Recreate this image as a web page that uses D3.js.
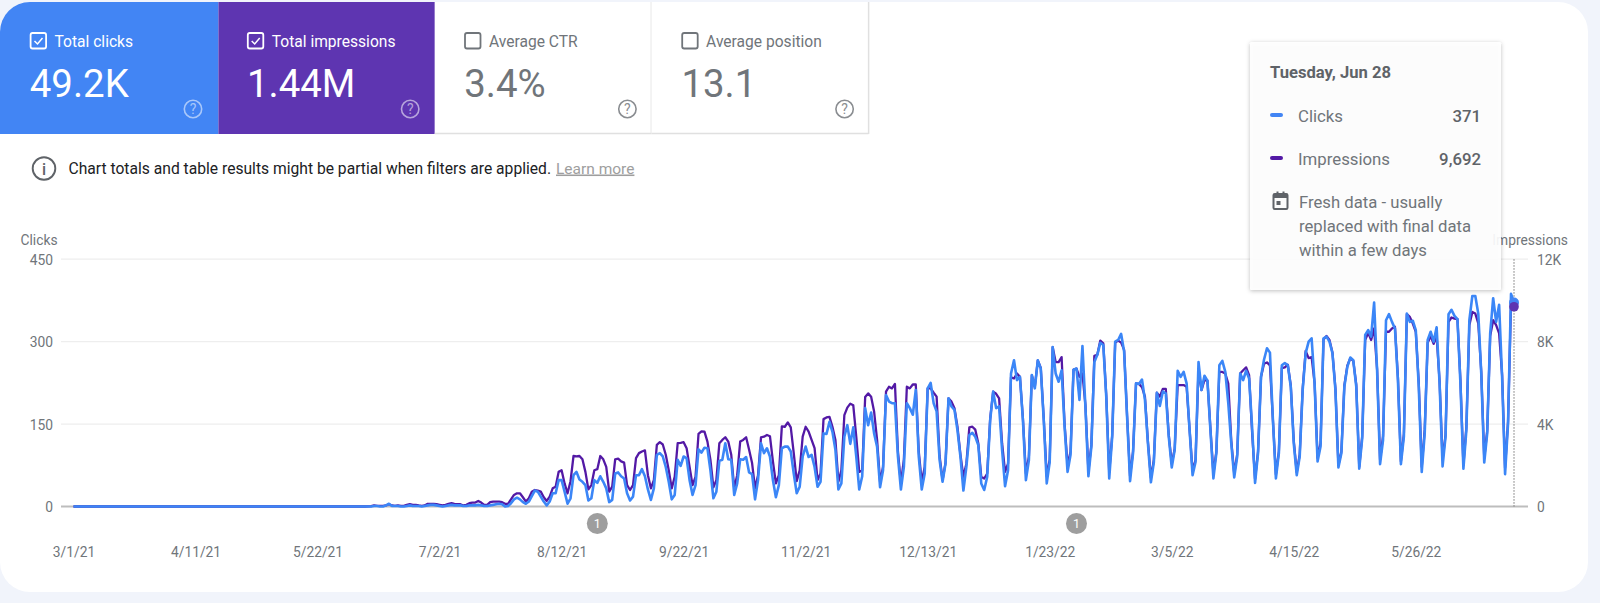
<!DOCTYPE html>
<html><head><meta charset="utf-8">
<script src="https://cdn.jsdelivr.net/npm/d3@7"></script>
<style>html,body{margin:0;padding:0;background:#f1f4fb;overflow:hidden}svg{display:block;font-family:Roboto,sans-serif}</style>
</head><body><div id="c"></div>
<script>
const startDate = "2021-03-01";
const clicks = [
0,0,0,0,0,0,0, 0,0,0,0,0,0,0, 0,0,0,0,0,0,0, 0,0,0,0,0,0,0, 0,0,0,0,0,0,0,
0,0,0,0,0,0,0, 0,0,0,0,0,0,0, 0,0,0,0,0,0,0, 0,0,0,0,0,0,0, 0,0,0,0,0,0,0,
0,0,0,0,0,0,0, 0,0,0,0,0,0,0, 0,0,0,0,0,0,0, 0,0,0,0,0,0,0,
0,0,0,1,1,0,0, 2,5,1,1,1,0,0, 1,2,1,1,1,0,1, 2,3,3,2,1,0,1,
2,3,2,2,2,1,1, 2,2,2,3,2,1,1, 2,3,4,5,4,0,1, 6,13,16,13,8,5,9,
19,29,27,18,9,2,9, 24,24,48,48,27,5,15, 57,63,49,45,39,11,15, 48,43,55,45,33,8,12,
60,62,55,51,24,11,18, 57,57,68,55,31,12,33, 94,97,91,72,45,13,21, 85,74,91,88,48,21,39,
104,98,107,106,66,15,27, 83,85,115,86,85,21,42, 86,85,90,62,59,13,48, 115,97,106,91,48,17,39,
106,109,109,100,60,24,36, 91,109,90,94,72,36,45, 133,132,154,136,103,31,42, 127,148,114,144,91,31,55,
179,148,171,133,109,35,66, 203,191,188,188,91,31,72, 188,179,167,212,91,31,60, 215,225,188,173,85,45,78,
197,182,176,139,91,29,72, 130,134,127,112,42,30,54, 157,209,179,182,103,37,66, 242,266,230,236,157,48,84,
239,215,266,251,157,42,81, 290,242,227,248,145,63,94, 249,251,194,292,181,55,109, 263,276,298,294,200,51,127,
300,303,314,282,163,46,97, 224,223,231,194,115,44,81, 207,183,209,206,127,71,103, 247,236,245,224,139,57,81,
263,212,238,229,139,51,97, 257,265,245,188,115,53,91, 242,230,247,233,145,43,97, 236,267,288,280,157,51,97,
257,261,257,218,115,57,91, 212,279,300,306,224,82,109, 306,309,300,279,212,71,97, 218,254,271,266,218,69,124,
312,321,309,371,248,77,121, 339,350,336,324,230,77,127, 351,336,338,321,218,63,133, 303,318,300,326,224,73,127,
350,358,347,341,224,69,139, 339,383,383,351,242,80,133, 315,379,336,367,236,59,151, 387,371];
const impressions = [
0,0,0,0,0,0,0, 0,0,0,0,0,0,0, 0,0,0,0,0,0,0, 0,0,0,0,0,0,0, 0,0,0,0,0,0,0,
0,0,0,0,0,0,0, 0,0,0,0,0,0,0, 0,0,0,0,0,0,0, 0,0,0,0,0,0,0, 0,0,0,0,0,0,0,
0,0,0,0,0,0,0, 0,0,0,0,0,0,0, 0,0,0,0,0,0,0, 0,0,0,0,0,0,0,
0,10,20,50,30,30,30, 50,110,50,30,50,30,30, 80,110,80,80,50,30,50, 130,130,130,110,80,50,80,
130,160,130,110,110,50,80, 160,190,190,270,190,80,80, 210,240,240,240,210,130,130, 350,560,640,640,450,240,400,
720,800,770,720,450,270,480, 880,960,1680,1760,1120,640,1230, 2450,2430,2450,2290,1680,830,1040, 1760,1810,2450,2290,1920,720,960,
2290,2320,2190,2130,1040,800,1040, 2350,2590,2670,2720,1520,880,1280, 2990,3120,3010,2510,1760,880,1440, 3070,3090,3120,2830,1920,1040,1440,
3520,3650,3630,3150,2270,930,1280, 3070,3230,3360,3150,2510,880,1520, 3150,3230,3360,2750,2110,880,1520, 3360,3390,3470,3410,2190,1120,1520,
3890,3870,4080,3840,2590,1230,1760, 3390,3870,3630,3230,2830,1280,1600, 4240,4320,4350,3870,3230,1200,1760, 4430,4800,4990,4910,3390,1680,1760,
5310,5490,5330,4610,3230,1200,1920, 5570,5810,5730,5950,2670,1120,2270, 5810,5730,5920,5920,2670,1200,1920, 5730,5730,5520,5330,2450,1280,2130,
5250,5090,4770,3870,2530,1440,2080, 3840,3870,3730,3070,1440,1360,1600, 4270,5570,5470,5250,3070,1680,2080, 6270,6210,6450,6290,4270,1600,2400,
6370,5810,7090,6720,4270,1470,2270, 7730,7010,7010,7250,4000,2000,2670, 6640,6690,6290,6450,4930,1730,2990, 7310,7360,8050,7920,5390,1650,3470,
7950,8050,7950,7600,4400,1470,2670, 5970,5950,5790,5330,3150,1390,2270, 5520,5330,5710,5710,3470,2080,2800, 5890,5890,5890,5810,3730,1730,2270,
6670,5650,6130,6110,3790,1600,2670, 6530,6530,6450,5970,3200,1600,2530, 6450,6610,6750,6370,3600,1330,2670, 6290,6930,6990,6850,4190,1550,2670,
6720,6750,6880,5870,3200,1650,2530, 5730,7550,7200,7250,6000,2350,3070, 8110,8270,8080,7470,5730,2000,2670, 5870,6830,7200,7070,5920,1920,3410,
8080,8430,8080,8640,6670,2270,3410, 8480,8480,8640,8720,6270,2190,3520, 9330,9200,8880,8480,6000,1920,3730, 7950,8270,7890,8270,6080,2270,3470,
8960,9170,9120,9090,6130,2000,3870, 8800,9440,9360,8880,6530,2350,3680, 8270,9040,8800,8400,6400,1870,4130, 9900,9692];
const xTickLabels = ["3/1/21","4/11/21","5/22/21","7/2/21","8/12/21","9/22/21","11/2/21","12/13/21","1/23/22","3/5/22","4/15/22","5/26/22"];
const yLeftTicks = [0,150,300,450];
const yRightTicks = [0,4000,8000,12000];
const yRightLabels = ["0","4K","8K","12K"];
const noteDates = ["8/24/21","2/1/22"];
const tileNames = ["Total clicks","Total impressions","Average CTR","Average position"];
const tileValues = ["49.2K","1.44M","3.4%","13.1"];
const tiles = [
 {on:true,fill:"#4285f4"},
 {on:true,fill:"#5e35b1"},
 {on:false,fill:"#fff"},
 {on:false,fill:"#fff"}];

const W=1600,H=603;
const parse=d3.utcParse("%m/%d/%y"), t0=d3.utcParse("%Y-%m-%d")(startDate);
const dates=clicks.map((_,i)=>d3.utcDay.offset(t0,i));
const x=d3.scaleUtc().domain([t0,dates[dates.length-1]]).range([73.5,1514]);
const y=d3.scaleLinear().domain([0,450]).range([506.5,259.2]);
const y2=d3.scaleLinear().domain([0,12000]).range([506.5,259.2]);

const svg=d3.select("#c").append("svg").attr("width",W).attr("height",H);
const defs=svg.append("defs");
defs.append("clipPath").attr("id","card").append("rect").attr("x",0).attr("y",2).attr("width",1588).attr("height",590).attr("rx",30);
const root=svg.append("g").attr("clip-path","url(#card)");
root.append("rect").attr("x",0).attr("y",2).attr("width",1588).attr("height",590).attr("fill","#fff");

// tiles
const tileW=217.2, textGrey="#5f6368";
const tileEdges=[0,218.4,434.8,651.4,868.6];
tiles.forEach((t,i)=>{
  const fg=t.on?"#fff":"#70757a";
  const a=tileEdges[i], b=tileEdges[i+1];
  root.append("rect").attr("x",a).attr("y",2).attr("width",b-a).attr("height",132).attr("fill",t.fill);
  if(!t.on){
    root.append("line").attr("x1",a).attr("x2",b).attr("y1",133.5).attr("y2",133.5).attr("stroke","#e0e0e0").attr("stroke-width",1.5);
    root.append("line").attr("x1",b).attr("x2",b).attr("y1",2).attr("y2",134).attr("stroke","#e0e0e0").attr("stroke-width",1.5);
  }
  const g=root.append("g").attr("transform",`translate(${i*tileW},0)`);
  g.append("rect").attr("x",30.6).attr("y",33).attr("width",15.5).attr("height",15.5).attr("rx",2).attr("fill","none").attr("stroke",fg).attr("stroke-width",1.8);
  if(t.on) g.append("path").attr("d","M34.5 41l3 3 5-6").attr("fill","none").attr("stroke","#fff").attr("stroke-width",1.5);
  g.append("text").attr("x",54.5).attr("y",46.8).attr("fill",fg).attr("font-size",15.6).text(tileNames[i]);
  g.append("text").attr("x",29.8).attr("y",97).attr("fill",fg).attr("font-size",38.4).text(tileValues[i]);
  const qc=t.on?"rgba(255,255,255,.55)":"#8a8d91";
  g.append("circle").attr("cx",193).attr("cy",109).attr("r",8.7).attr("fill","none").attr("stroke",qc).attr("stroke-width",1.6);
  g.append("text").attr("x",193).attr("y",114).attr("text-anchor","middle").attr("fill",qc).attr("font-size",14).text("?");
});

// info line
root.append("circle").attr("cx",44).attr("cy",168.5).attr("r",11.3).attr("fill","none").attr("stroke","#5f6368").attr("stroke-width",1.9);
root.append("text").attr("x",44).attr("y",174.5).attr("text-anchor","middle").attr("fill","#5f6368").attr("font-size",16).attr("font-weight",500).text("i");
root.append("text").attr("x",68.5).attr("y",173.5).attr("fill","#202124").attr("font-size",15.65).text("Chart totals and table results might be partial when filters are applied.");
root.append("text").attr("x",556).attr("y",173.5).attr("fill","#9e9e9e").attr("font-size",15.5).attr("text-decoration","underline").text("Learn more");

// axes
const axisColor="#70757a";
const gl=root.append("g").attr("transform","translate(53,0.8)")
  .call(d3.axisLeft(y).tickValues(yLeftTicks).tickSize(0).tickPadding(0));
gl.select(".domain").remove();
gl.selectAll("text").attr("font-family","Roboto").attr("font-size",13.8).attr("fill",axisColor);
root.append("text").attr("x",20.5).attr("y",244.5).attr("fill",axisColor).attr("font-size",13.8).text("Clicks");

root.append("g").selectAll("line").data(yLeftTicks.filter(d=>d>0)).join("line")
  .attr("x1",61).attr("x2",1528).attr("y1",d=>y(d)).attr("y2",d=>y(d)).attr("stroke","#eeeeee").attr("stroke-width",1.2);
root.append("line").attr("x1",61).attr("x2",1528).attr("y1",y(0)).attr("y2",y(0)).attr("stroke","#bdbdbd").attr("stroke-width",2);

const gr=root.append("g").attr("transform","translate(1537,0.8)")
  .call(d3.axisRight(y2).tickValues(yRightTicks).tickFormat((d,i)=>yRightLabels[i]).tickSize(0).tickPadding(0));
gr.select(".domain").remove();
gr.selectAll("text").attr("font-family","Roboto").attr("font-size",13.8).attr("fill",axisColor);
root.append("text").attr("x",1568).attr("y",244.5).attr("text-anchor","end").attr("fill",axisColor).attr("font-size",13.8).text("Impressions");

const gx=root.append("g").attr("transform","translate(0,547)")
  .call(d3.axisBottom(x).tickValues(xTickLabels.map(parse)).tickFormat((d,i)=>xTickLabels[i]).tickSize(0).tickPadding(0));
gx.select(".domain").remove();
gx.selectAll("text").attr("font-family","Roboto").attr("font-size",13.8).attr("fill",axisColor);

// hover guide
root.append("line").attr("x1",x(dates[dates.length-1])).attr("x2",x(dates[dates.length-1])).attr("y1",y(450)).attr("y2",y(0))
  .attr("stroke","#757575").attr("stroke-width",1).attr("stroke-dasharray","1.5 1.5");

// series
const lineC=d3.line().x((d,i)=>x(dates[i])).y(d=>y(d));
const lineI=d3.line().x((d,i)=>x(dates[i])).y(d=>y2(d));
root.append("path").datum(impressions).attr("d",lineI).attr("fill","none").attr("stroke","#5319a5").attr("stroke-width",2.3).attr("stroke-linejoin","round");
root.append("path").datum(clicks).attr("d",lineC).attr("fill","none").attr("stroke","#3b86f7").attr("stroke-width",2.6).attr("stroke-linejoin","round");
const last=clicks.length-1;
root.append("circle").attr("cx",x(dates[last])).attr("cy",y(clicks[last])).attr("r",5).attr("fill","#4285f4");
root.append("circle").attr("cx",x(dates[last])).attr("cy",y2(impressions[last])).attr("r",4.8).attr("fill","#5e35b1");

// annotation badges
const nb=root.append("g").selectAll("g").data(noteDates).join("g").attr("transform",d=>`translate(${x(parse(d))},523.5)`);
nb.append("circle").attr("r",10.5).attr("fill","#9e9e9e");
nb.append("text").attr("y",4.5).attr("text-anchor","middle").attr("fill","#fff").attr("font-size",12.5).text("1");

// tooltip
defs.append("filter").attr("id","sh").attr("x","-10%").attr("y","-10%").attr("width","120%").attr("height","120%")
  .append("feDropShadow").attr("dx",0).attr("dy",1).attr("stdDeviation",2).attr("flood-color","#000").attr("flood-opacity",.28);
const tip=root.append("g");
tip.append("rect").attr("x",1250).attr("y",42).attr("width",251).attr("height",248).attr("rx",1.5).attr("fill","#fff").attr("fill-opacity",.9).attr("filter","url(#sh)");
tip.append("text").attr("x",1270).attr("y",78).attr("fill",textGrey).attr("font-size",16.6).attr("font-weight",700).text("Tuesday, Jun 28");
[["Clicks","371","#4285f4",115],["Impressions","9,692","#5319a5",158]].forEach(r=>{
  tip.append("line").attr("x1",1272).attr("x2",1281).attr("y1",r[3]).attr("y2",r[3]).attr("stroke",r[2]).attr("stroke-width",4).attr("stroke-linecap","round");
  tip.append("text").attr("x",1298).attr("y",r[3]+6.5).attr("fill",axisColor).attr("font-size",16.8).text(r[0]);
  tip.append("text").attr("x",1481).attr("y",r[3]+6.5).attr("text-anchor","end").attr("fill",textGrey).attr("font-size",16.8).attr("font-weight",500).text(r[1]);
});
tip.append("rect").attr("x",1273.5).attr("y",194).attr("width",14).attr("height",15).attr("rx",1.2).attr("fill","none").attr("stroke",textGrey).attr("stroke-width",2);
tip.append("rect").attr("x",1273.5).attr("y",194).attr("width",14).attr("height",4).attr("fill",textGrey);
tip.append("rect").attr("x",1276.5).attr("y",191.5).attr("width",2).attr("height",3).attr("fill",textGrey);
tip.append("rect").attr("x",1282.5).attr("y",191.5).attr("width",2).attr("height",3).attr("fill",textGrey);
tip.append("rect").attr("x",1276.5).attr("y",201).attr("width",4).attr("height",4).attr("fill",textGrey);
["Fresh data - usually","replaced with final data","within a few days"].forEach((s,i)=>{
  tip.append("text").attr("x",1299).attr("y",208+i*24).attr("fill",axisColor).attr("font-size",16.7).text(s);
});
</script></body></html>
